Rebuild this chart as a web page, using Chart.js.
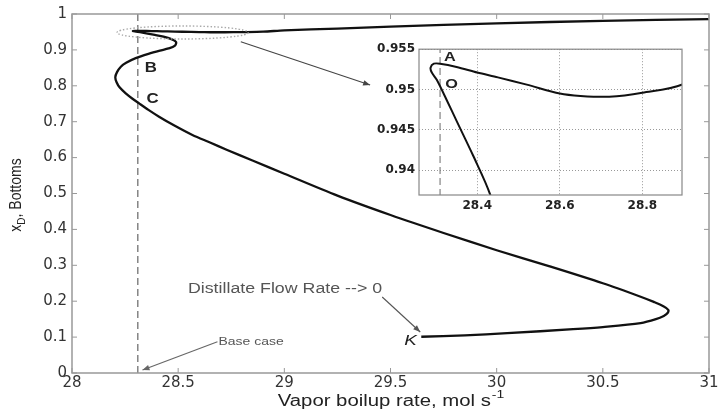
<!DOCTYPE html>
<html><head><meta charset="utf-8">
<script src="https://cdn.jsdelivr.net/npm/chart.js@4.4.1/dist/chart.umd.min.js"></script>
<style>
html,body{margin:0;padding:0;background:#fff;}
#wrap{position:relative;width:720px;height:416px;overflow:hidden;}
</style></head><body>
<div id="wrap">
  <div style="position:absolute;left:0;top:0;width:720px;height:416px"><canvas id="main"></canvas></div>
  <div style="position:absolute;left:340px;top:38px;width:350px;height:185px"><canvas id="inset"></canvas></div>
</div>
<script>
// ---- data ----
const boilupRate = [31.0, 30.5, 30.0, 29.5, 29.25, 29.0, 28.9, 28.8, 28.72, 28.65, 28.6, 28.52, 28.45, 28.4, 28.35, 28.31, 28.295, 28.287, 28.29, 28.302, 28.326, 28.35, 28.39, 28.431, 28.468, 28.49, 28.485, 28.455, 28.414, 28.36, 28.30, 28.255, 28.23, 28.212, 28.204, 28.21, 28.225, 28.253, 28.285, 28.316, 28.36, 28.41, 28.48, 28.567, 28.65, 28.728, 28.85, 29.0, 29.25, 29.5, 29.75, 30.0, 30.25, 30.5, 30.678, 30.74, 30.785, 30.808, 30.805, 30.787, 30.75, 30.678, 30.5, 30.36, 30.05, 29.85, 29.645];
const bottomsPurity = [0.986, 0.981, 0.974, 0.965, 0.9595, 0.9545, 0.9507, 0.9496, 0.9491, 0.9492, 0.9495, 0.9506, 0.9515, 0.9521, 0.9528, 0.9532, 0.9532, 0.9527, 0.9521, 0.9512, 0.9487, 0.9461, 0.9418, 0.937, 0.930, 0.922, 0.912, 0.904, 0.898, 0.889, 0.877, 0.864, 0.853, 0.838, 0.824, 0.810, 0.795, 0.779, 0.764, 0.751, 0.733, 0.714, 0.690, 0.663, 0.642, 0.622, 0.592, 0.555, 0.494, 0.440, 0.390, 0.342, 0.297, 0.250, 0.2125, 0.198, 0.186, 0.176, 0.167, 0.159, 0.150, 0.139, 0.128, 0.122, 0.111, 0.105, 0.101];
const baseCaseBoilup = [28.31, 28.31];
const baseCaseSpan = [0, 1];
const xTicks = [28, 28.5, 29, 29.5, 30, 30.5, 31];
const xTickLabels = ['28', '28.5', '29', '29.5', '30', '30.5', '31'];
const yTicks = [0, 0.1, 0.2, 0.3, 0.4, 0.5, 0.6, 0.7, 0.8, 0.9, 1];
const yTickLabels = ['0', '0.1', '0.2', '0.3', '0.4', '0.5', '0.6', '0.7', '0.8', '0.9', '1'];
const insetXTicks = [28.4, 28.6, 28.8];
const insetXTickLabels = ['28.4', '28.6', '28.8'];
const insetYTicks = [0.94, 0.945, 0.95, 0.955];
const insetYTickLabels = ['0.94', '0.945', '0.95', '0.955'];

const curvePoints = boilupRate.map((x, i) => ({x, y: bottomsPurity[i]}));
const baseLine = baseCaseBoilup.map((x, i) => ({x, y: baseCaseSpan[i]}));

const SX = 1.27;
function sText(ctx, txt, x, y, font, color, align, sx) {
  sx = sx || SX;
  ctx.save();
  ctx.font = font; ctx.fillStyle = color; ctx.textBaseline = 'middle'; ctx.textAlign = 'left';
  const w = ctx.measureText(txt).width * sx;
  const left = align === 'center' ? x - w / 2 : (align === 'right' ? x - w : x);
  ctx.translate(left, y); ctx.scale(sx, 1); ctx.fillText(txt, 0, 0);
  ctx.restore();
}
function arrow(ctx, x1, y1, x2, y2, color) {
  ctx.save();
  ctx.strokeStyle = color; ctx.fillStyle = color; ctx.lineWidth = 1.1;
  ctx.beginPath(); ctx.moveTo(x1, y1); ctx.lineTo(x2, y2); ctx.stroke();
  const a = Math.atan2(y2 - y1, x2 - x1), L = 7, H = 2.8;
  ctx.beginPath();
  ctx.moveTo(x2, y2);
  ctx.lineTo(x2 - L * Math.cos(a) + H * Math.sin(a), y2 - L * Math.sin(a) - H * Math.cos(a));
  ctx.lineTo(x2 - L * Math.cos(a) - H * Math.sin(a), y2 - L * Math.sin(a) + H * Math.cos(a));
  ctx.closePath(); ctx.fill();
  ctx.restore();
}

const tickFont = {family: 'DejaVu Sans', size: 15};

const mainDecor = {
  id: 'mainDecor',
  beforeDraw(chart) {
    const c = chart.ctx; c.save(); c.fillStyle = '#fff'; c.fillRect(0, 0, chart.width, chart.height); c.restore();
  },
  afterDraw(chart) {
    const c = chart.ctx, a = chart.chartArea, xs = chart.scales.x, ys = chart.scales.y;
    const px = v => xs.getPixelForValue(v), py = v => ys.getPixelForValue(v);
    c.save();
    c.strokeStyle = '#999'; c.lineWidth = 1.5;
    c.strokeRect(a.left, a.top, a.right - a.left, a.bottom - a.top);
    c.lineWidth = 1;
    c.beginPath();
    xTicks.forEach(v => { const x = px(v); c.moveTo(x, a.bottom); c.lineTo(x, a.bottom - 5); c.moveTo(x, a.top); c.lineTo(x, a.top + 5); });
    yTicks.forEach(v => { const y = py(v); c.moveTo(a.left, y); c.lineTo(a.left + 5, y); c.moveTo(a.right, y); c.lineTo(a.right - 5, y); });
    c.stroke();
    c.strokeStyle = '#aaa'; c.lineWidth = 1.4; c.setLineDash([1.5, 2]);
    c.beginPath();
    c.ellipse(px(28.521), py(0.9485), Math.abs(px(28.83) - px(28.521)), Math.abs(py(0.9485) - py(0.9666)), 0, 0, Math.PI * 2);
    c.stroke(); c.setLineDash([]);
    arrow(c, px(28.795), py(0.9229), px(29.404), py(0.8022), '#444');
    arrow(c, px(29.461), py(0.2117), px(29.640), py(0.1142), '#555');
    arrow(c, px(28.685), py(0.0872), px(28.332), py(0.0084), '#666');
    sText(c, 'B', px(28.371), py(0.849), 'bold 14px "Liberation Sans"', '#222', 'center', 1.2);
    sText(c, 'C', px(28.379), py(0.762), 'bold 14px "Liberation Sans"', '#222', 'center', 1.2);
    sText(c, 'K', px(29.594), py(0.0877), 'italic 14px "Liberation Sans"', '#222', 'center', 1.35);
    sText(c, 'Distillate Flow Rate --> 0', px(28.546), py(0.234), '14px "Liberation Sans"', '#555', 'left');
    sText(c, 'Base case', px(28.69), py(0.087), '11px "Liberation Sans"', '#555', 'left');
    const main = 'Vapor boilup rate, mol s', sup = '-1';
    c.font = '16px "Liberation Sans"'; const w1 = c.measureText(main).width * SX;
    c.font = '11px "Liberation Sans"'; const w2 = c.measureText(sup).width * SX;
    const cx = (a.left + a.right) / 2, left = cx - (w1 + w2) / 2, ty = 402;
    sText(c, main, left, ty, '16px "Liberation Sans"', '#222', 'left');
    sText(c, sup, left + w1 + 1, ty - 7, '11px "Liberation Sans"', '#222', 'left');
    c.save();
    c.translate(17, 195); c.rotate(-Math.PI / 2); c.scale(1, 1.15);
    c.fillStyle = '#222'; c.textBaseline = 'middle'; c.textAlign = 'left';
    c.font = '14px "Liberation Sans"'; const wx = c.measureText('x').width;
    const rest = ', Bottoms'; const wr = c.measureText(rest).width;
    c.font = '10px "Liberation Sans"'; const wd = c.measureText('D').width;
    const tot = wx + wd + wr; const sx0 = -tot / 2;
    c.font = '14px "Liberation Sans"'; c.fillText('x', sx0, 0);
    c.font = '10px "Liberation Sans"'; c.fillText('D', sx0 + wx, 4);
    c.font = '14px "Liberation Sans"'; c.fillText(rest, sx0 + wx + wd, 0);
    c.restore();
    c.restore();
  }
};

new Chart(document.getElementById('main'), {
  type: 'scatter',
  data: {
    datasets: [
      {data: curvePoints, showLine: true, borderColor: '#111', borderWidth: 2.3, pointRadius: 0, tension: 0.3, fill: false},
      {data: baseLine, showLine: true, borderColor: '#666', borderWidth: 1.2, borderDash: [7, 4], pointRadius: 0, fill: false}
    ]
  },
  options: {
    responsive: true, maintainAspectRatio: false, animation: false,
    layout: {padding: {top: 14, right: 11, left: 0, bottom: 0}},
    plugins: {legend: {display: false}, tooltip: {enabled: false}},
    scales: {
      x: {
        type: 'linear', min: 28, max: 31,
        afterBuildTicks: s => { s.ticks = xTicks.map(v => ({value: v})); },
        afterFit: s => { s.height = 43; },
        grid: {display: false, drawTicks: false}, border: {display: false},
        ticks: {font: tickFont, color: '#333', padding: 1, autoSkip: false, maxRotation: 0, callback: (v, i) => xTickLabels[i]}
      },
      y: {
        type: 'linear', min: 0, max: 1,
        afterBuildTicks: s => { s.ticks = yTicks.map(v => ({value: v})); },
        afterFit: s => { s.width = 72; },
        grid: {display: false, drawTicks: false}, border: {display: false},
        ticks: {font: tickFont, color: '#333', padding: 5, autoSkip: false, callback: (v, i) => yTickLabels[i]}
      }
    }
  },
  plugins: [mainDecor]
});

const insetDecor = {
  id: 'insetDecor',
  beforeDraw(chart) {
    const c = chart.ctx, a = chart.chartArea;
    c.save(); c.fillStyle = '#fff'; c.fillRect(a.left, a.top, a.right - a.left, a.bottom - a.top); c.restore();
  },
  afterDraw(chart) {
    const c = chart.ctx, a = chart.chartArea, xs = chart.scales.x, ys = chart.scales.y;
    c.save();
    c.strokeStyle = '#888'; c.lineWidth = 1.2;
    c.strokeRect(a.left, a.top, a.right - a.left, a.bottom - a.top);
    sText(c, 'A', xs.getPixelForValue(28.334), ys.getPixelForValue(0.954), 'bold 13px "Liberation Sans"', '#222', 'center', 1.25);
    sText(c, 'O', xs.getPixelForValue(28.338), ys.getPixelForValue(0.9506), 'bold 13px "Liberation Sans"', '#222', 'center', 1.25);
    c.restore();
  }
};

new Chart(document.getElementById('inset'), {
  type: 'scatter',
  data: {
    datasets: [
      {data: curvePoints, showLine: true, borderColor: '#111', borderWidth: 2, pointRadius: 0, tension: 0.3, fill: false},
      {data: baseLine, showLine: true, borderColor: '#777', borderWidth: 1.1, borderDash: [7, 4], pointRadius: 0, fill: false}
    ]
  },
  options: {
    responsive: true, maintainAspectRatio: false, animation: false,
    layout: {padding: {top: 7, right: 8, left: 0, bottom: 0}},
    plugins: {legend: {display: false}, tooltip: {enabled: false}},
    scales: {
      x: {
        type: 'linear', min: 28.259, max: 28.896,
        afterBuildTicks: s => { s.ticks = insetXTicks.map(v => ({value: v})); },
        afterFit: s => { s.height = 28; },
        grid: {color: '#999', lineWidth: 1, drawTicks: false}, border: {display: false, dash: [1, 2]},
        ticks: {font: {family: 'DejaVu Sans', size: 12, weight: 'bold'}, color: '#222', padding: 4, autoSkip: false, maxRotation: 0, callback: (v, i) => insetXTickLabels[i]}
      },
      y: {
        type: 'linear', min: 0.9369, max: 0.955,
        afterBuildTicks: s => { s.ticks = insetYTicks.map(v => ({value: v})); },
        afterFit: s => { s.width = 79; },
        grid: {color: '#999', lineWidth: 1, drawTicks: false}, border: {display: false, dash: [1, 2]},
        ticks: {font: {family: 'DejaVu Sans', size: 12, weight: 'bold'}, color: '#222', padding: 4, autoSkip: false, callback: (v, i) => insetYTickLabels[i]}
      }
    }
  },
  plugins: [insetDecor]
});
</script>
</body></html>
